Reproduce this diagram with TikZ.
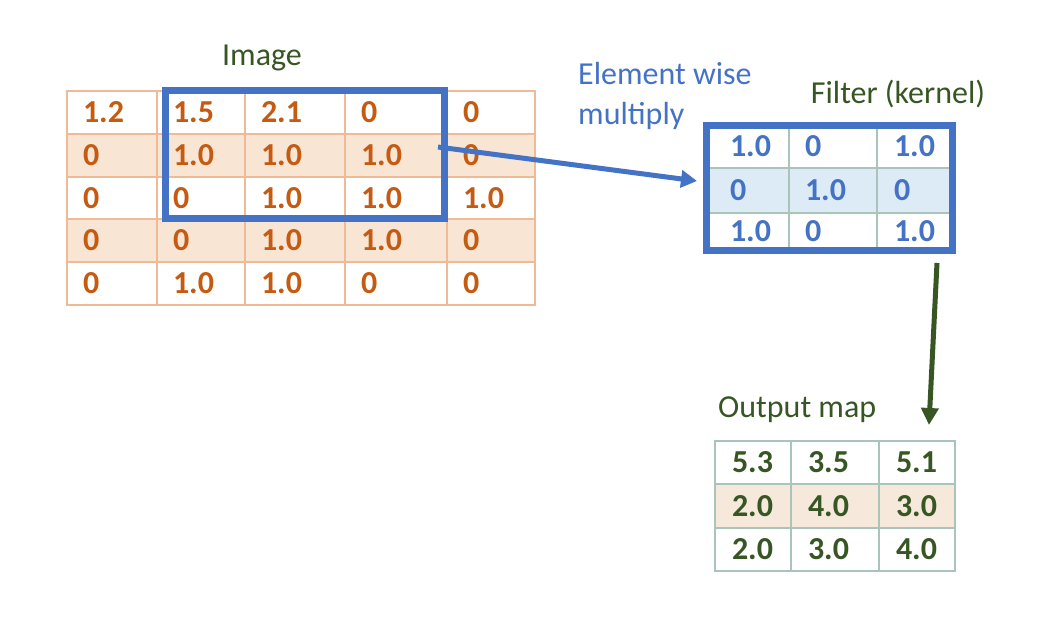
\documentclass[tikz,border=0pt]{standalone}
\usepackage{fontspec}
\setmainfont{Carlito}
\usetikzlibrary{arrows.meta}
\definecolor{imgtext}{HTML}{C55A11}
\definecolor{imgline}{HTML}{F1BA96}
\definecolor{imgfill}{HTML}{F8E5D4}
\definecolor{winblue}{HTML}{4472C4}
\definecolor{kerfill}{HTML}{DDEBF6}
\definecolor{kerline}{HTML}{A9C4B9}
\definecolor{mapgreen}{HTML}{375623}
\definecolor{mapfill}{HTML}{F6E8DA}
\newcommand\cellfont{\bfseries\fontsize{32}{36}\selectfont}
\newcommand\lblfont{\fontsize{32}{40}\selectfont}
\begin{document}
\begin{tikzpicture}[x=1pt, y=-1pt,
    imgcell/.style ={draw=imgline, line width=2pt, text=imgtext, font=\cellfont, inner xsep=16pt, inner ysep=0pt,
                     text width=#1, align=left, text height=20pt, text depth=0pt, minimum height=42.8pt},
    imgshade/.style={imgcell=#1, fill=imgfill},
    kercell/.style ={draw=kerline, line width=1.5pt, text=winblue, font=\cellfont, inner xsep=16pt, inner ysep=0pt,
                     text width=#1, align=left, text height=20pt, text depth=0pt, minimum height=43pt},
    kershade/.style={kercell=#1, fill=kerfill},
    mapcell/.style ={draw=kerline, line width=2pt, text=mapgreen, font=\cellfont, inner xsep=17pt, inner ysep=0pt,
                     text width=#1, align=left, text height=20pt, text depth=0pt, minimum height=43.3pt},
    mapshade/.style={mapcell=#1, fill=mapfill},
    window/.style  ={draw=winblue, line width=7pt},
    mularrow/.style={draw=winblue, line width=5pt, -{Triangle[length=16pt,width=17pt]}},
    maparrow/.style={draw=mapgreen, line width=5pt, -{Triangle[length=17pt,width=17pt]}},
    caption/.style ={font=\lblfont, inner sep=0pt}]
   \useasboundingbox (0,0) rectangle (1060,618);

   \node[caption, text=mapgreen, anchor=base] (imglabel) at (262,66) {Image};
   \node[caption, text=winblue, anchor=north west, align=left] (mullabel) at (578,62) {Element wise\\multiply};
   \node[caption, text=mapgreen, anchor=base] (kerlabel) at (898,103) {Filter (kernel)};
   \node[caption, text=mapgreen, anchor=base west] (maplabel) at (718,417) {Output map};

   \node[imgcell=58pt] (i11) at (112,112.4) {1.2};
   \node[imgcell=56pt] (i12) at (201,112.4) {1.5};
   \node[imgcell=68pt] (i13) at (295,112.4) {2.1};
   \node[imgcell=70pt] (i14) at (396,112.4) {0};
   \node[imgcell=56pt] (i15) at (491,112.4) {0};
   \node[imgshade=58pt] (i21) at (112,155.2) {0};
   \node[imgshade=56pt] (i22) at (201,155.2) {1.0};
   \node[imgshade=68pt] (i23) at (295,155.2) {1.0};
   \node[imgshade=70pt] (i24) at (396,155.2) {1.0};
   \node[imgshade=56pt] (i25) at (491,155.2) {0};
   \node[imgcell=58pt] (i31) at (112,198) {0};
   \node[imgcell=56pt] (i32) at (201,198) {0};
   \node[imgcell=68pt] (i33) at (295,198) {1.0};
   \node[imgcell=70pt] (i34) at (396,198) {1.0};
   \node[imgcell=56pt] (i35) at (491,198) {1.0};
   \node[imgshade=58pt] (i41) at (112,240.8) {0};
   \node[imgshade=56pt] (i42) at (201,240.8) {0};
   \node[imgshade=68pt] (i43) at (295,240.8) {1.0};
   \node[imgshade=70pt] (i44) at (396,240.8) {1.0};
   \node[imgshade=56pt] (i45) at (491,240.8) {0};
   \node[imgcell=58pt] (i51) at (112,283.6) {0};
   \node[imgcell=56pt] (i52) at (201,283.6) {1.0};
   \node[imgcell=68pt] (i53) at (295,283.6) {1.0};
   \node[imgcell=70pt] (i54) at (396,283.6) {0};
   \node[imgcell=56pt] (i55) at (491,283.6) {0};
   \draw[window] (165,90) rectangle (444,218);

   \node[kercell=35pt, inner xsep=24pt] (k11) at (747.5,146.5) {1.0};
   \node[kercell=56pt] (k12) at (833,146.5) {0};
   \node[kercell=41pt, inner xsep=17pt] (k13) at (914.5,146.5) {1.0};
   \node[kershade=35pt, inner xsep=24pt, minimum height=45pt] (k21) at (747.5,190.5) {0};
   \node[kershade=56pt, minimum height=45pt] (k22) at (833,190.5) {1.0};
   \node[kershade=41pt, inner xsep=17pt, minimum height=45pt] (k23) at (914.5,190.5) {0};
   \node[kercell=35pt, inner xsep=24pt, minimum height=37pt] (k31) at (747.5,231.5) {1.0};
   \node[kercell=56pt, minimum height=37pt] (k32) at (833,231.5) {0};
   \node[kercell=41pt, inner xsep=17pt, minimum height=37pt] (k33) at (914.5,231.5) {1.0};
   \draw[window] (706,125) rectangle (952,250);

   \node[mapcell=42pt] (o11) at (753,462.7) {5.3};
   \node[mapcell=54pt] (o12) at (835,462.7) {3.5};
   \node[mapcell=42pt] (o13) at (917,462.7) {5.1};
   \node[mapshade=42pt] (o21) at (753,506) {2.0};
   \node[mapshade=54pt] (o22) at (835,506) {4.0};
   \node[mapshade=42pt] (o23) at (917,506) {3.0};
   \node[mapcell=42pt] (o31) at (753,549.3) {2.0};
   \node[mapcell=54pt] (o32) at (835,549.3) {3.0};
   \node[mapcell=42pt] (o33) at (917,549.3) {4.0};

   \coordinate (winout) at (438,147);
   \coordinate (kerin)  at (697,181);
   \coordinate (kerout) at (937,263);
   \coordinate (mapin)  at (929,425);
   \draw[mularrow] (winout) -- (kerin);
   \draw[maparrow] (kerout) -- (mapin);
 \end{tikzpicture}
\end{document}
